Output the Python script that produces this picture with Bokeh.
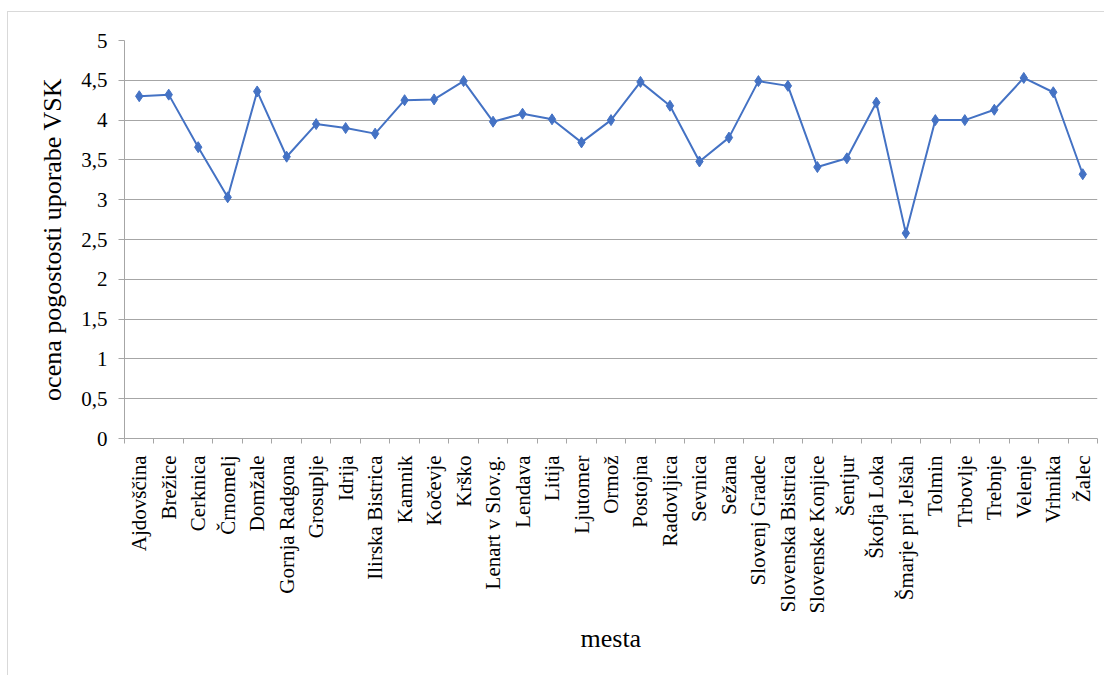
from bokeh.plotting import figure
from bokeh.models import Range1d, FixedTicker, CustomJSTickFormatter, Title
from bokeh.embed import file_html
from bokeh.resources import INLINE

mesta = ["Ajdovščina", "Brežice", "Cerknica", "Črnomelj", "Domžale", "Gornja Radgona",
         "Grosuplje", "Idrija", "Ilirska Bistrica", "Kamnik", "Kočevje", "Krško",
         "Lenart v Slov.g.", "Lendava", "Litija", "Ljutomer", "Ormož", "Postojna",
         "Radovljica", "Sevnica", "Sežana", "Slovenj Gradec", "Slovenska Bistrica",
         "Slovenske Konjice", "Šentjur", "Škofja Loka", "Šmarje pri Jelšah", "Tolmin",
         "Trbovlje", "Trebnje", "Velenje", "Vrhnika", "Žalec"]
ocena = [4.30, 4.32, 3.66, 3.03, 4.36, 3.54, 3.95, 3.90, 3.83, 4.25, 4.26, 4.49,
         3.98, 4.08, 4.01, 3.72, 4.00, 4.48, 4.18, 3.48, 3.78, 4.49, 4.43, 3.41,
         3.52, 4.22, 2.58, 4.00, 4.00, 4.13, 4.53, 4.35, 3.32]
y_ticks = [0, 0.5, 1, 1.5, 2, 2.5, 3, 3.5, 4, 4.5, 5]

n = len(mesta)
xs = [i + 0.5 for i in range(n)]

FONT = "'Liberation Serif', 'Times New Roman', serif"
GRID = "#a6a6a6"
BLUE = "#4472C4"

p = figure(width=1097, height=664, output_backend="svg", toolbar_location=None,
           x_range=Range1d(0, n), y_range=Range1d(0, 5),
           min_border_left=116, min_border_top=28, min_border_right=8, min_border_bottom=238)
p.styles = {"border-left": "1px solid #d9d9d9", "border-top": "1px solid #d9d9d9",
            "margin-top": "11px", "margin-left": "7px"}
p.outline_line_color = None

p.line(xs, ocena, line_color=BLUE, line_width=2)
p.scatter(xs, ocena, marker="diamond", size=11, fill_color=BLUE, line_color=BLUE)

# x axis
p.xaxis.ticker = FixedTicker(ticks=xs, minor_ticks=list(range(n + 1)))
p.xaxis.formatter = CustomJSTickFormatter(args=dict(names=mesta),
                                          code="return names[Math.floor(tick)];")
p.xaxis.major_label_orientation = 1.5707963267948966
p.xaxis.major_tick_out = 0
p.xaxis.major_tick_in = 0
p.xaxis.minor_tick_out = 5
p.xaxis.minor_tick_in = 0
p.xaxis.minor_tick_line_color = GRID
p.xaxis.axis_line_color = GRID
p.xaxis.major_label_standoff = 12
p.xaxis.major_label_text_font = FONT
p.xaxis.major_label_text_font_size = "21px"
p.xaxis.major_label_text_color = "#000000"
p.xgrid.visible = False

# y axis
p.yaxis.ticker = FixedTicker(ticks=y_ticks)
p.yaxis.formatter = CustomJSTickFormatter(code="return tick.toString().replace('.', ',');")
p.yaxis.major_tick_out = 6
p.yaxis.major_tick_in = 0
p.yaxis.minor_tick_out = 0
p.yaxis.minor_tick_in = 0
p.yaxis.major_tick_line_color = GRID
p.yaxis.axis_line_color = GRID
p.yaxis.major_label_standoff = 11
p.yaxis.major_label_text_font = FONT
p.yaxis.major_label_text_font_size = "21px"
p.yaxis.major_label_text_color = "#000000"
p.yaxis.axis_label = "ocena pogostosti uporabe VSK"
p.yaxis.axis_label_text_font = FONT
p.yaxis.axis_label_text_font_size = "26px"
p.yaxis.axis_label_text_font_style = "normal"
p.yaxis.axis_label_text_color = "#000000"
p.yaxis.axis_label_standoff = 11
p.ygrid.grid_line_color = GRID
p.ygrid.grid_line_width = 1.2

p.add_layout(Title(text="mesta", align="left", offset=456, text_font=FONT,
                   text_font_size="26px", text_font_style="normal", text_color="#000000",
                   standoff=10), "below")

open("out.html", "w").write(file_html(p, INLINE))
